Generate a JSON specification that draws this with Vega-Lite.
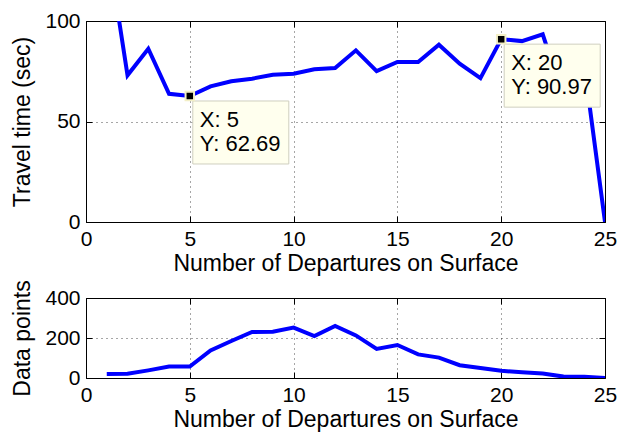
{
  "$schema": "https://vega.github.io/schema/vega-lite/v6.json",
  "background": "white",
  "padding": {"left": 11, "top": 9, "right": 0, "bottom": 0},
  "datasets": {
    "travel": [
      {"n": 1, "t": 140}, {"n": 2, "t": 73}, {"n": 3, "t": 86.2}, {"n": 4, "t": 63.8},
      {"n": 5, "t": 62.69}, {"n": 6, "t": 67.5}, {"n": 7, "t": 70}, {"n": 8, "t": 71.3},
      {"n": 9, "t": 73.3}, {"n": 10, "t": 73.8}, {"n": 11, "t": 76}, {"n": 12, "t": 76.6},
      {"n": 13, "t": 85.4}, {"n": 14, "t": 75.1}, {"n": 15, "t": 79.6}, {"n": 16, "t": 79.6},
      {"n": 17, "t": 88.2}, {"n": 18, "t": 78.8}, {"n": 19, "t": 71.6}, {"n": 20, "t": 90.97},
      {"n": 21, "t": 90}, {"n": 22, "t": 93.4}, {"n": 23, "t": 62}, {"n": 24, "t": 78},
      {"n": 25, "t": 0}
    ],
    "tips": [
      {"n": 5, "t": 62.69, "lx": "X: 5", "ly": "Y: 62.69"},
      {"n": 20, "t": 90.97, "lx": "X: 20", "ly": "Y: 90.97"}
    ],
    "counts": [
      {"n": 1, "c": 20}, {"n": 2, "c": 21}, {"n": 3, "c": 38}, {"n": 4, "c": 57},
      {"n": 5, "c": 57}, {"n": 6, "c": 138}, {"n": 7, "c": 185}, {"n": 8, "c": 230},
      {"n": 9, "c": 231}, {"n": 10, "c": 252}, {"n": 11, "c": 210}, {"n": 12, "c": 260},
      {"n": 13, "c": 213}, {"n": 14, "c": 145}, {"n": 15, "c": 165}, {"n": 16, "c": 118},
      {"n": 17, "c": 102}, {"n": 18, "c": 64}, {"n": 19, "c": 50}, {"n": 20, "c": 36},
      {"n": 21, "c": 29}, {"n": 22, "c": 22}, {"n": 23, "c": 7}, {"n": 24, "c": 6},
      {"n": 25, "c": 0}
    ]
  },
  "config": {
    "font": "Liberation Sans",
    "view": {"stroke": "black", "strokeWidth": 1},
    "axis": {
      "labelFont": "Liberation Sans", "labelFontSize": 21, "labelColor": "black",
      "titleFont": "Liberation Sans", "titleFontSize": 23, "titleFontWeight": "normal", "titleColor": "black",
      "domain": false, "tickColor": "black", "tickSize": -6, "tickWidth": 1,
      "labelPadding": 12, "grid": true, "gridColor": "black", "gridDash": [1, 4], "gridOpacity": 0.7,
      "labelFlush": false, "labelOverlap": false
    }
  },
  "bounds": "flush",
  "spacing": 76,
  "vconcat": [
    {
      "width": 519, "height": 201,
      "layer": [
        {
          "data": {"name": "travel"},
          "mark": {"type": "line", "color": "#0000ff", "strokeWidth": 4, "clip": true, "strokeJoin": "miter"},
          "encoding": {
            "x": {"field": "n", "type": "quantitative", "scale": {"domain": [0, 25], "nice": false},
                  "axis": {"orient": "bottom", "values": [0, 5, 10, 15, 20, 25], "title": "Number of Departures on Surface", "titlePadding": 3}},
            "y": {"field": "t", "type": "quantitative", "scale": {"domain": [0, 100], "nice": false},
                  "axis": {"orient": "left", "values": [0, 50, 100], "title": "Travel time (sec)", "titlePadding": 10}}
          }
        },
        {
          "data": {"name": "travel"},
          "mark": {"type": "line", "opacity": 0, "clip": true},
          "encoding": {
            "x": {"field": "n", "type": "quantitative", "axis": {"orient": "top", "values": [0, 5, 10, 15, 20, 25], "labels": false, "title": null, "grid": false}},
            "y": {"field": "t", "type": "quantitative", "axis": {"orient": "right", "values": [0, 50, 100], "labels": false, "title": null, "grid": false}}
          }
        },
        {
          "data": {"name": "tips"},
          "mark": {"type": "rect", "fill": "#ffffee", "stroke": "#cfcfbf", "strokeWidth": 1, "xOffset": 3, "x2Offset": 99, "yOffset": 5, "y2Offset": 68},
          "encoding": {
            "x": {"field": "n", "type": "quantitative", "axis": null},
            "x2": {"field": "n"},
            "y": {"field": "t", "type": "quantitative", "axis": null},
            "y2": {"field": "t"}
          }
        },
        {
          "data": {"name": "tips"},
          "mark": {"type": "text", "align": "left", "baseline": "alphabetic", "dx": 10, "dy": 31, "fontSize": 22, "font": "Liberation Sans", "color": "black"},
          "encoding": {
            "x": {"field": "n", "type": "quantitative", "axis": null},
            "y": {"field": "t", "type": "quantitative", "axis": null},
            "text": {"field": "lx"}
          }
        },
        {
          "data": {"name": "tips"},
          "mark": {"type": "text", "align": "left", "baseline": "alphabetic", "dx": 10, "dy": 55, "fontSize": 22, "font": "Liberation Sans", "color": "black"},
          "encoding": {
            "x": {"field": "n", "type": "quantitative", "axis": null},
            "y": {"field": "t", "type": "quantitative", "axis": null},
            "text": {"field": "ly"}
          }
        },
        {
          "data": {"name": "tips"},
          "mark": {"type": "point", "shape": "square", "filled": true, "size": 72, "fill": "black", "stroke": "#f3efc6", "strokeWidth": 2, "opacity": 1},
          "encoding": {
            "x": {"field": "n", "type": "quantitative", "axis": null},
            "y": {"field": "t", "type": "quantitative", "axis": null}
          }
        }
      ]
    },
    {
      "width": 519, "height": 80,
      "layer": [
        {
          "data": {"name": "counts"},
          "mark": {"type": "line", "color": "#0000ff", "strokeWidth": 4, "clip": true},
          "encoding": {
            "x": {"field": "n", "type": "quantitative", "scale": {"domain": [0, 25], "nice": false},
                  "axis": {"orient": "bottom", "values": [0, 5, 10, 15, 20, 25], "title": "Number of Departures on Surface", "titlePadding": 3}},
            "y": {"field": "c", "type": "quantitative", "scale": {"domain": [0, 400], "nice": false},
                  "axis": {"orient": "left", "values": [0, 200, 400], "title": "Data points", "titlePadding": 10}}
          }
        },
        {
          "data": {"name": "counts"},
          "mark": {"type": "line", "opacity": 0, "clip": true},
          "encoding": {
            "x": {"field": "n", "type": "quantitative", "axis": {"orient": "top", "values": [0, 5, 10, 15, 20, 25], "labels": false, "title": null, "grid": false}},
            "y": {"field": "c", "type": "quantitative", "axis": {"orient": "right", "values": [0, 200, 400], "labels": false, "title": null, "grid": false}}
          }
        }
      ]
    }
  ]
}
